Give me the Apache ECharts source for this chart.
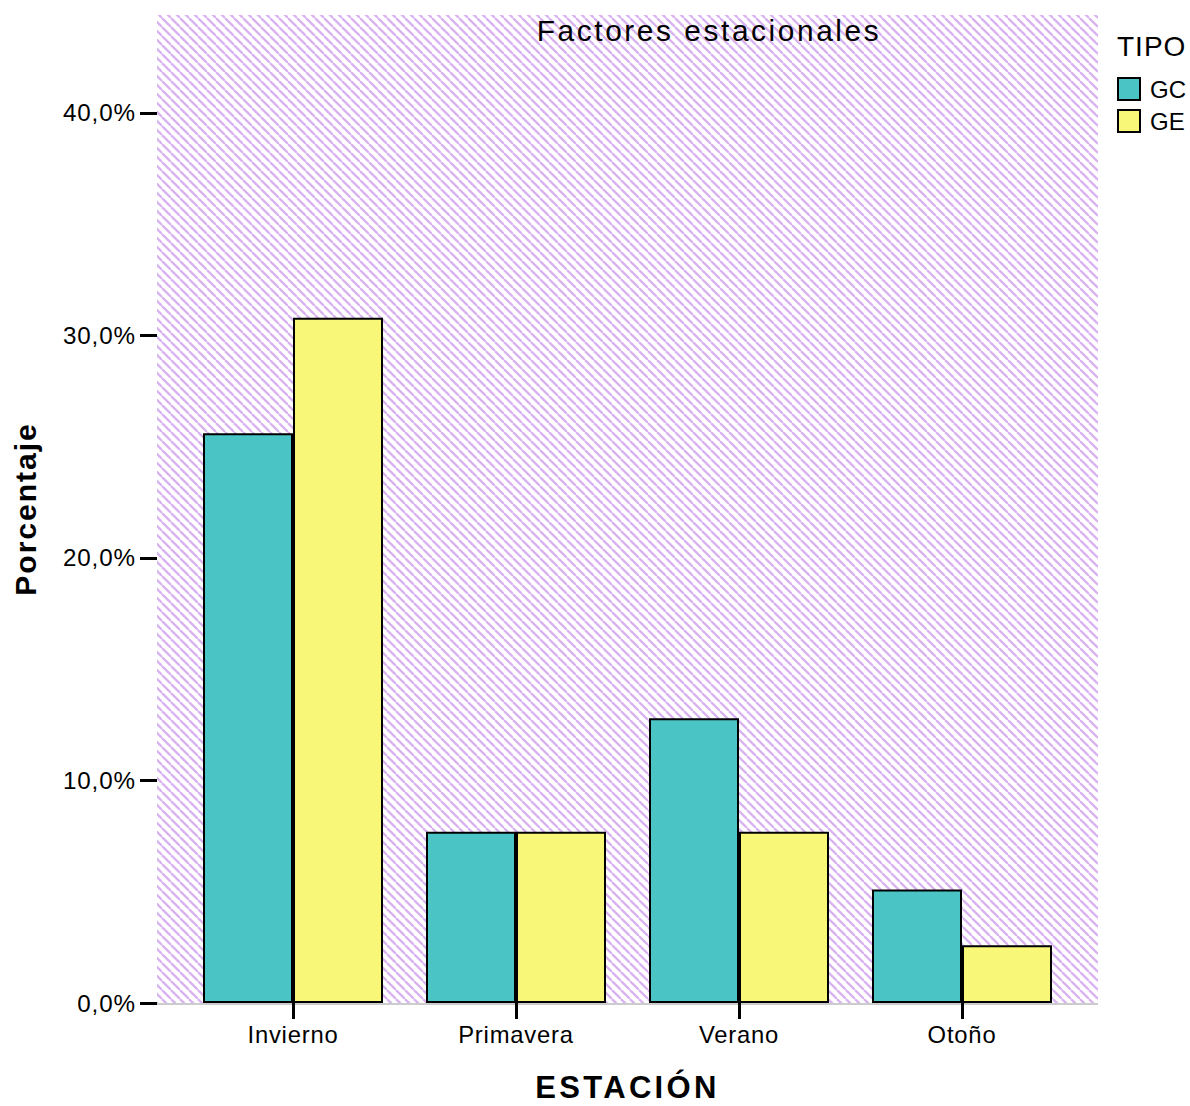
<!DOCTYPE html>
<html>
<head>
<meta charset="utf-8">
<script src="https://cdn.jsdelivr.net/npm/echarts@6/dist/echarts.min.js"></script>
<style>
  html, body { margin: 0; padding: 0; background: #fff; }
  #chart { width: 1190px; height: 1106px; }
  /* widened tracking for the chart texts, keyed on each text's font size */
  #chart svg text[style*="29.8px"] { letter-spacing: 2.6px; }
  #chart svg text[style*="31px"]   { letter-spacing: 3.3px; }
  #chart svg text[style*="30.2px"] { letter-spacing: 1.9px; }
  #chart svg text[style*="23.8px"] { letter-spacing: 0.8px; }
  #chart svg text[style*="24.2px"] { letter-spacing: 0.9px; }
  #chart svg text[style*="28px"]   { letter-spacing: 1px; }
</style>
</head>
<body>
<div id="chart"></div>
<script>
// Seasons on the x axis and the share of each group (percent)
const estaciones = ['Invierno', 'Primavera', 'Verano', 'Otoño'];
const tipos = ['GC', 'GE'];
const valoresGC = [25.6, 7.7, 12.8, 5.1];
const valoresGE = [30.8, 7.7, 7.7, 2.6];
const ticksY = [0, 10, 20, 30, 40];

const FONT = '"Liberation Sans", Arial, sans-serif';
const colores = { GC: '#4bc4c6', GE: '#f9f777' };

// Diagonal lavender hatch tile for the plot background
function hatchTile() {
  const s = 9;
  const c = document.createElement('canvas');
  c.width = s; c.height = s;
  const g = c.getContext('2d');
  g.fillStyle = '#ffffff';
  g.fillRect(0, 0, s, s);
  g.strokeStyle = '#d9b3f1';
  g.lineWidth = 2.3;
  for (let k = -1; k <= 1; k++) {
    g.beginPath();
    g.moveTo(k * s, 0);
    g.lineTo(k * s + s, s);
    g.stroke();
  }
  return c;
}

const chart = echarts.init(document.getElementById('chart'), null, { renderer: 'svg' });

const fmtPct = v => v.toFixed(1).replace('.', ',') + '%';

chart.setOption({
  animation: false,
  backgroundColor: '#ffffff',
  textStyle: { fontFamily: FONT },
  graphic: [
    {
      type: 'rect', z: -10, silent: true,
      shape: { x: 157, y: 15, width: 941, height: 988 },
      style: { fill: { image: hatchTile(), repeat: 'repeat' } }
    },
    {
      type: 'line', z: -5, silent: true,
      shape: { x1: 157, y1: 1004, x2: 1098, y2: 1004 },
      style: { stroke: '#cccccc', lineWidth: 2 }
    },
    {
      type: 'text', x: 709, y: 30, silent: true,
      style: {
        text: 'Factores estacionales', fontSize: 29.8, fontFamily: FONT, fill: '#000',
        textAlign: 'center', textVerticalAlign: 'middle'
      }
    },
    {
      type: 'text', x: 1117, y: 46, silent: true,
      style: {
        text: 'TIPO', fontSize: 28, fontFamily: FONT, fill: '#000',
        textAlign: 'left', textVerticalAlign: 'middle'
      }
    }
  ],
  legend: {
    data: tipos,
    orient: 'vertical',
    left: 1112,
    top: 72,
    padding: 5,
    itemWidth: 22,
    itemHeight: 22,
    itemGap: 8,
    icon: 'rect',
    textStyle: { fontSize: 24, color: '#000', fontFamily: FONT, padding: [0, 0, 0, 5] },
    itemStyle: { borderColor: '#000', borderWidth: 2 }
  },
  grid: {
    left: 181.5, right: 116.5, top: 15, bottom: 103,
    containLabel: false, outerBoundsMode: 'none'
  },
  xAxis: {
    type: 'category',
    data: estaciones,
    boundaryGap: true,
    name: 'ESTACIÓN',
    nameLocation: 'middle',
    nameGap: 69,
    nameMoveOverlap: false,
    nameTextStyle: { fontSize: 31, fontWeight: 'bold', color: '#000', fontFamily: FONT },
    axisLine: { show: false },
    axisTick: { show: true, alignWithLabel: true, length: 16, lineStyle: { color: '#000', width: 3 } },
    axisLabel: { fontSize: 23.8, color: '#000', margin: 19, fontFamily: FONT }
  },
  yAxis: {
    type: 'value',
    min: 0,
    max: 44.4,
    interval: 10,
    offset: 24.5,
    name: 'Porcentaje',
    nameLocation: 'middle',
    nameGap: 117,
    nameMoveOverlap: false,
    nameTextStyle: { fontSize: 30.2, fontWeight: 'bold', color: '#000', fontFamily: FONT },
    axisLine: { show: false },
    splitLine: { show: false },
    axisTick: { show: true, length: 17, customValues: ticksY, lineStyle: { color: '#000', width: 3 } },
    axisLabel: { fontSize: 24.2, color: '#000', margin: 21, customValues: ticksY, formatter: fmtPct, fontFamily: FONT }
  },
  series: [
    {
      name: 'GC', type: 'bar', data: valoresGC,
      barWidth: 90, barGap: '0%',
      itemStyle: { color: colores.GC, borderColor: '#000', borderWidth: 2 }
    },
    {
      name: 'GE', type: 'bar', data: valoresGE,
      barWidth: 90, barGap: '0%',
      itemStyle: { color: colores.GE, borderColor: '#000', borderWidth: 2 }
    }
  ]
});
</script>
</body>
</html>
